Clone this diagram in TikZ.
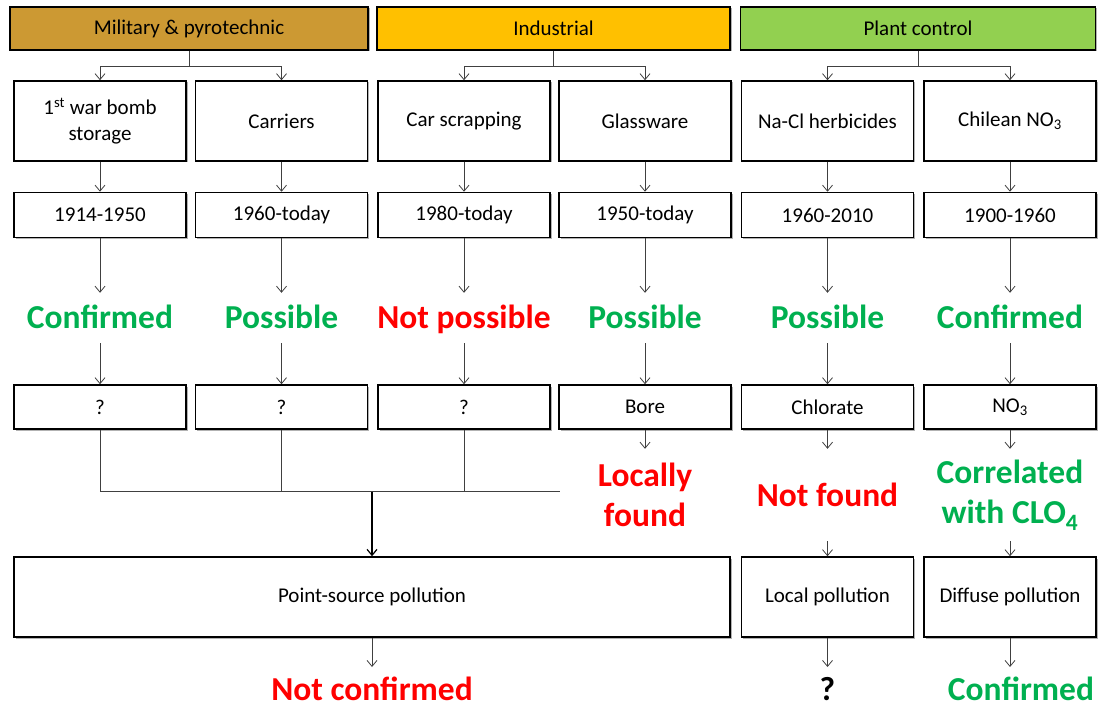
\documentclass[tikz,border=0pt]{standalone}
\usepackage{fontspec}
\setmainfont{Carlito}
\usetikzlibrary{arrows.meta,shadows}

\definecolor{military}{RGB}{204,153,51}
\definecolor{industry}{RGB}{255,192,0}
\definecolor{plant}{RGB}{146,208,80}
\definecolor{yes}{RGB}{0,176,80}
\definecolor{no}{RGB}{255,0,0}

\begin{document}
\begin{tikzpicture}[%
  x=1pt, y=-1pt,
  box/.style = {draw, line width=1.5pt, fill=white, align=center, inner sep=0pt,
                font=\fontsize{21}{26}\selectfont,
                drop shadow={shadow xshift=1.5pt, shadow yshift=-1.5pt,
                             opacity=0.3, fill=black}},
  head/.style = {box, minimum height=43pt},
  cell/.style = {box, minimum width=172pt},
  verdict/.style = {font=\fontsize{33.5}{40}\selectfont\bfseries, align=center,
                    inner sep=0pt, text height=22pt, text depth=0pt},
  final/.style = {verdict, text height=33pt, anchor=north},
  found/.style = {font=\fontsize{33.5}{40}\selectfont\bfseries, align=center,
                  inner sep=0pt, minimum height=92pt},
  line/.style = {black!75, line width=0.8pt},
  >={Straight Barb[length=6pt, width=10pt]},
]

  \useasboundingbox (0,0) rectangle (1100,708);

  % sources
  \node[head, fill=military, minimum width=358pt] (mil) at (189,28.5) {Military \& pyrotechnic};
  \node[head, fill=industry, minimum width=353pt] (ind) at (553.5,28.5) {Industrial};
  \node[head, fill=plant, minimum width=355pt] (pla) at (918,28.5) {Plant control};

  \node[cell, minimum height=80pt] (bomb) at (100,121) {1\textsuperscript{st} war bomb\\storage};
  \node[cell, minimum height=80pt] (carr) at (281.5,121) {Carriers};
  \node[cell, minimum height=80pt] (scrap) at (464,121) {Car scrapping};
  \node[cell, minimum height=80pt] (glass) at (645,121) {Glassware};
  \node[cell, minimum height=80pt] (herb) at (827.5,121) {Na-Cl herbicides};
  \node[cell, minimum height=80pt] (chil) at (1010,121) {Chilean NO\textsubscript{3}};

  \node[cell, minimum height=45pt] (p1) at (100,215) {1914-1950};
  \node[cell, minimum height=45pt] (p2) at (281.5,215) {1960-today};
  \node[cell, minimum height=45pt] (p3) at (464,215) {1980-today};
  \node[cell, minimum height=45pt] (p4) at (645,215) {1950-today};
  \node[cell, minimum height=45pt] (p5) at (827.5,215) {1960-2010};
  \node[cell, minimum height=45pt] (p6) at (1010,215) {1900-1960};

  \node[verdict, minimum height=50pt, text=yes] (s1) at (100,318) {Confirmed};
  \node[verdict, minimum height=50pt, text=yes] (s2) at (281.5,318) {Possible};
  \node[verdict, minimum height=50pt, text=no] (s3) at (464,318) {Not possible};
  \node[verdict, minimum height=50pt, text=yes] (s4) at (645,318) {Possible};
  \node[verdict, minimum height=50pt, text=yes] (s5) at (827.5,318) {Possible};
  \node[verdict, minimum height=50pt, text=yes] (s6) at (1010,318) {Confirmed};

  \node[cell, minimum height=44pt] (r1) at (100,407) {?};
  \node[cell, minimum height=44pt] (r2) at (281.5,407) {?};
  \node[cell, minimum height=44pt] (r3) at (464,407) {?};
  \node[cell, minimum height=44pt] (r4) at (645,407) {Bore};
  \node[cell, minimum height=44pt] (r5) at (827.5,407) {Chlorate};
  \node[cell, minimum height=44pt] (r6) at (1010,407) {NO\textsubscript{3}};

  \node[found, text=no] (f4) at (645,495) {Locally\\found};
  \node[found, text=no] (f5) at (827.5,495) {Not found};
  \node[found, text=yes] (f6) at (1010,495) {Correlated\\with CLO\textsubscript{4}};

  \node[box, minimum width=716pt, minimum height=80pt] (point) at (372,597) {Point-source pollution};
  \node[cell, minimum height=80pt] (local) at (827.5,597) {Local pollution};
  \node[cell, minimum height=80pt] (diff) at (1010,597) {Diffuse pollution};

  \node[final, text=no] (g1) at (372,667) {Not confirmed};
  \node[final] (g2) at (827.5,667) {?};
  \node[final, text=yes] (g3) at (1021,667) {Confirmed};

  \coordinate (J) at (559.5,491.5);

  % connectors
  \draw[line,->] (mil.south) -- ++(0,15.5) -| (bomb.north);
  \draw[line,->] (mil.south) -- ++(0,15.5) -| (carr.north);
  \draw[line,->] (ind.south) -- ++(0,15.5) -| (scrap.north);
  \draw[line,->] (ind.south) -- ++(0,15.5) -| (glass.north);
  \draw[line,->] (pla.south) -- ++(0,15.5) -| (herb.north);
  \draw[line,->] (pla.south) -- ++(0,15.5) -| (chil.north);

  \draw[line,->] (bomb) -- (p1);
  \draw[line,->] (carr) -- (p2);
  \draw[line,->] (scrap) -- (p3);
  \draw[line,->] (glass) -- (p4);
  \draw[line,->] (herb) -- (p5);
  \draw[line,->] (chil) -- (p6);

  \draw[line,->] (p1) -- (s1);
  \draw[line,->] (p2) -- (s2);
  \draw[line,->] (p3) -- (s3);
  \draw[line,->] (p4) -- (s4);
  \draw[line,->] (p5) -- (s5);
  \draw[line,->] (p6) -- (s6);

  \draw[line,->] (s1) -- (r1);
  \draw[line,->] (s2) -- (r2);
  \draw[line,->] (s3) -- (r3);
  \draw[line,->] (s4) -- (r4);
  \draw[line,->] (s5) -- (r5);
  \draw[line,->] (s6) -- (r6);

  \draw[line,->] (r4) -- (f4);
  \draw[line,->] (r5) -- (f5);
  \draw[line,->] (r6) -- (f6);
  \draw[line,->] (f5) -- (local);
  \draw[line,->] (f6) -- (diff);

  \draw[line] (r1.south) |- (J);
  \draw[line] (r2.south) -- (r2.south |- J);
  \draw[line] (r3.south) -- (r3.south |- J);
  \draw[line, black, line width=1.2pt, ->] (point.north |- J) -- (point.north);

  \draw[line,->] (point) -- (g1);
  \draw[line,->] (local) -- (g2);
  \draw[line,->] (diff.south) -- (diff.south |- g3.north);

\end{tikzpicture}
\end{document}
